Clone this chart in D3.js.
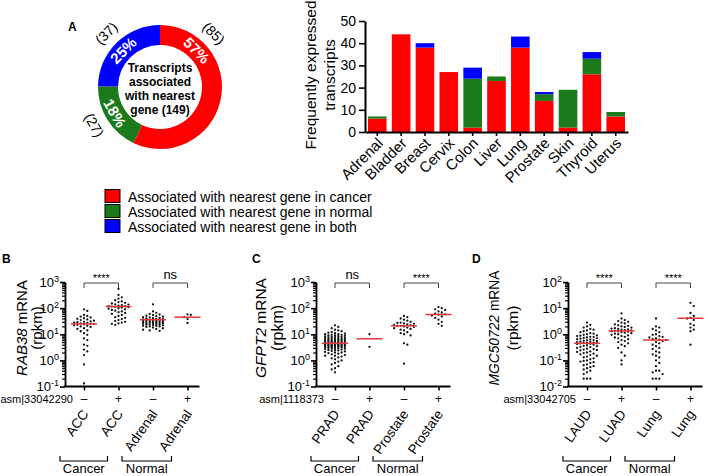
<!DOCTYPE html>
<html>
<head>
<meta charset="utf-8">
<script src="https://cdn.jsdelivr.net/npm/d3@7"></script>
<style>
  body { margin: 0; background: #fff; overflow: hidden; }
  svg { display: block; font-family: "Liberation Sans", Arial, sans-serif; }
</style>
</head>
<body>
<svg id="fig" width="709" height="476"></svg>
<script>
// ---------- panel A, donut ----------
const assocTypes = ["cancer", "normal", "both"];
const assocCounts = [85, 27, 37];
const assocPercent = ["57%", "18%", "25%"];
const donutText = ["Transcripts", "associated", "with nearest", "gene (149)"];

// ---------- panel A, stacked bars ----------
const tissues = ["Adrenal", "Bladder", "Breast", "Cervix", "Colon", "Liver", "Lung", "Prostate", "Skin", "Thyroid", "Uterus"];
const inCancer = [6, 44, 38, 27, 2, 23, 38, 14, 2, 26, 7];
const inNormal = [1, 0, 0, 0, 22, 2, 0, 3, 17, 7, 2];
const inBoth   = [0, 0, 2, 0, 5, 0, 5, 1, 0, 3, 0];
const countTicks = [0, 10, 20, 30, 40, 50];
const legendText = [
  "Associated with nearest gene in cancer",
  "Associated with nearest gene in normal",
  "Associated with nearest gene in both"
];

// ---------- panel B: RAB38 ----------
const accNeg = [90, 78, 55, 50, 47, 44, 41, 39, 37, 35, 33, 31, 30, 29, 28, 27, 26, 25, 25, 24, 23, 22, 21, 20, 19, 17, 16, 14, 13, 11, 9.5, 7, 6, 4, 3.6, 2.6, 2.2, 1.6, 0.7, 0.13];
const accPos = [550, 320, 260, 230, 200, 180, 170, 160, 150, 140, 135, 130, 125, 120, 118, 115, 112, 110, 105, 100, 95, 90, 85, 80, 75, 70, 65, 60, 55, 50, 45, 42, 38, 35, 32, 30, 28, 26, 25, 23];
const adrNeg = [140, 75, 66, 60, 57, 54, 51, 49, 47, 45, 44, 42, 41, 40, 39, 38, 37, 36, 36, 35, 35, 34, 33, 33, 32, 31, 31, 30, 30, 29, 29, 28, 28, 27, 27, 26, 26, 25, 25, 24, 24, 23, 23, 22, 22, 21, 21, 20, 20, 19, 18, 17, 16, 15, 14, 13.5];
const adrPos = [58, 55, 45, 38, 27];
const rabMedians = [25, 115, 36, 45];

// ---------- panel C: GFPT2 ----------
const pradNeg = [22, 19, 17, 15, 14, 13, 12, 11.5, 11, 10.5, 10, 10, 9.5, 9.5, 9, 9, 8.7, 8.5, 8.2, 8, 8, 7.8, 7.6, 7.4, 7.2, 7, 7, 6.8, 6.6, 6.5, 6.4, 6.2, 6, 6, 5.9, 5.8, 5.7, 5.6, 5.5, 5.4, 5.3, 5.2, 5.1, 5, 5, 4.9, 4.8, 4.8, 4.7, 4.6, 4.6, 4.5, 4.5, 4.4, 4.4, 4.3, 4.3, 4.2, 4.2, 4.1, 4.1, 4, 4, 3.9, 3.9, 3.8, 3.8, 3.7, 3.7, 3.6, 3.6, 3.5, 3.5, 3.4, 3.4, 3.3, 3.3, 3.2, 3.2, 3.1, 3, 3, 2.9, 2.8, 2.8, 2.7, 2.6, 2.5, 2.5, 2.4, 2.3, 2.2, 2.1, 2, 2, 1.9, 1.8, 1.7, 1.6, 1.5, 1.5, 1.4, 1.3, 1.2, 1.1, 1, 0.9, 0.8, 0.7, 0.6, 0.5, 0.45, 0.35];
const pradPos = [10, 3.3];
const prosNeg = [50, 45, 40, 36, 33, 30, 28, 27, 26, 25, 24, 23, 22, 21, 21, 20, 19, 18, 17, 16, 15, 14, 12, 11, 10, 9, 4.5, 4, 0.75];
const prosPos = [110, 100, 90, 85, 75, 68, 62, 58, 56, 52, 48, 42, 36, 30, 25, 21];
const gfptMedians = [4.5, 6.7, 21, 57];

// ---------- panel D: MGC50722 ----------
const laudNeg = [2.8, 2.3, 2, 1.8, 1.6, 1.5, 1.4, 1.3, 1.2, 1.1, 1.05, 1, 0.95, 0.9, 0.88, 0.85, 0.8, 0.78, 0.75, 0.72, 0.7, 0.68, 0.65, 0.62, 0.6, 0.58, 0.56, 0.54, 0.52, 0.5, 0.5, 0.48, 0.47, 0.46, 0.45, 0.44, 0.43, 0.42, 0.4, 0.38, 0.36, 0.35, 0.33, 0.32, 0.3, 0.28, 0.27, 0.26, 0.25, 0.24, 0.22, 0.21, 0.2, 0.19, 0.18, 0.17, 0.16, 0.15, 0.14, 0.13, 0.12, 0.11, 0.1, 0.095, 0.09, 0.085, 0.08, 0.07, 0.065, 0.06, 0.055, 0.05, 0.045, 0.04, 0.035, 0.03, 0.02, 0.02, 0.02];
const luadPos = [6.3, 4, 3.5, 3.2, 3, 2.8, 2.6, 2.4, 2.2, 2.1, 2, 1.9, 1.8, 1.7, 1.65, 1.6, 1.55, 1.5, 1.45, 1.4, 1.35, 1.3, 1.3, 1.25, 1.2, 1.15, 1.1, 1.05, 1, 0.95, 0.9, 0.85, 0.8, 0.75, 0.7, 0.65, 0.6, 0.55, 0.5, 0.45, 0.4, 0.35, 0.3, 0.2, 0.15, 0.1, 0.07];
const lungNeg = [4, 2, 1.8, 1.6, 1.4, 1.2, 1, 0.95, 0.85, 0.8, 0.75, 0.7, 0.65, 0.62, 0.6, 0.55, 0.5, 0.45, 0.4, 0.35, 0.3, 0.27, 0.22, 0.2, 0.17, 0.15, 0.13, 0.1, 0.08, 0.06, 0.04, 0.04, 0.035, 0.03, 0.02, 0.02, 0.02];
const lungPos = [16, 12, 6.5, 5, 4.2, 4, 3.5, 2.5, 2.2, 1.8, 1.5, 1.3, 0.4];
const mgcMedians = [0.45, 1.35, 0.6, 4.1];

const signs = ["\u2013", "+", "\u2013", "+"];
const colors = { cancer: "#ff0000", normal: "#1b7a1b", both: "#0000ff" };

const svg = d3.select("#fig");
svg.append("rect").attr("width", 709).attr("height", 476).attr("fill", "#fff");

// panel letters
[["A", 68, 31], ["B", 2, 263], ["C", 252, 263], ["D", 472, 263]].forEach(([t, x, y]) => {
  svg.append("text").attr("x", x).attr("y", y).attr("font-size", 12).attr("font-weight", "bold").text(t);
});

// ===== donut =====
const donut = svg.append("g").attr("transform", "translate(160,87)");
const pie = d3.pie().sort(null).value(d => d)(assocCounts);
const arc = d3.arc().innerRadius(42).outerRadius(62);
donut.selectAll("path").data(pie).join("path")
  .attr("d", arc)
  .attr("fill", (d, i) => colors[assocTypes[i]]);

const labelAngle = [45, 240, 315];
const polar = (deg, r) => [r * Math.sin(deg * Math.PI / 180), -r * Math.cos(deg * Math.PI / 180)];
const tangent = deg => (deg > 90 && deg < 270) ? deg - 180 : (deg >= 270 ? deg - 360 : deg);

donut.selectAll(".pct").data(assocPercent).join("text")
  .attr("class", "pct")
  .attr("transform", (d, i) => {
    const [px, py] = polar(labelAngle[i], 52);
    return `translate(${px},${py}) rotate(${tangent(labelAngle[i])})`;
  })
  .attr("text-anchor", "middle").attr("dominant-baseline", "central")
  .attr("fill", "#fff").attr("font-weight", "bold").attr("font-size", 15)
  .text(d => d);

donut.selectAll(".cnt").data(assocCounts).join("text")
  .attr("class", "cnt")
  .attr("transform", (d, i) => {
    const [px, py] = polar(labelAngle[i], 76);
    return `translate(${px},${py}) rotate(${tangent(labelAngle[i])})`;
  })
  .attr("text-anchor", "middle").attr("dominant-baseline", "central")
  .attr("font-size", 14)
  .text(d => `(${d})`);

donut.selectAll(".mid").data(donutText).join("text")
  .attr("class", "mid")
  .attr("x", 0).attr("y", (d, i) => -19 + i * 14)
  .attr("text-anchor", "middle").attr("dominant-baseline", "central")
  .attr("font-weight", "bold").attr("font-size", 12)
  .text(d => d);

// ===== stacked bars =====
const barX = d3.scaleBand().domain(tissues).range([365, 628]).paddingInner(0.22).paddingOuter(0.125);
const barY = d3.scaleLinear().domain([0, 50]).range([132, 21]);
const rows = tissues.map((t, i) => ({ tissue: t, cancer: inCancer[i], normal: inNormal[i], both: inBoth[i] }));
const stacked = d3.stack().keys(assocTypes)(rows);

svg.append("g").selectAll("g").data(stacked).join("g")
  .attr("fill", d => colors[d.key])
  .selectAll("rect").data(d => d).join("rect")
  .attr("x", d => barX(d.data.tissue))
  .attr("width", barX.bandwidth())
  .attr("y", d => barY(d[1]))
  .attr("height", d => barY(d[0]) - barY(d[1]));

svg.append("g").attr("transform", "translate(365,0)")
  .call(d3.axisLeft(barY).tickValues(countTicks).tickSize(6).tickSizeOuter(0))
  .call(g => g.select(".domain").attr("stroke-width", 2))
  .call(g => g.selectAll(".tick line").attr("stroke-width", 1.6))
  .call(g => g.selectAll("text").attr("font-size", 14).attr("fill", "#000").attr("font-family", null));

svg.append("g").attr("transform", "translate(0,132)")
  .call(d3.axisBottom(barX).tickSize(4).tickSizeOuter(0))
  .call(g => g.select(".domain").attr("stroke-width", 2))
  .call(g => g.selectAll(".tick line").attr("stroke-width", 1.6))
  .call(g => g.selectAll("text")
    .attr("font-size", 15).attr("fill", "#000").attr("font-family", null)
    .attr("text-anchor", "end")
    .attr("x", -4).attr("y", 8).attr("dy", "0.35em")
    .attr("transform", "rotate(-45)"));

svg.append("text")
  .attr("transform", "translate(310,75) rotate(-90)")
  .attr("text-anchor", "middle").attr("dominant-baseline", "central")
  .attr("font-size", 15.5).text("Frequently expressed");
svg.append("text")
  .attr("transform", "translate(329,75) rotate(-90)")
  .attr("text-anchor", "middle").attr("dominant-baseline", "central")
  .attr("font-size", 15.5).text("transcripts");

// legend
const legend = svg.append("g").attr("transform", "translate(105,189.5)");
legend.selectAll("rect").data(assocTypes).join("rect")
  .attr("x", 0).attr("y", (d, i) => i * 15)
  .attr("width", 15).attr("height", 13)
  .attr("fill", d => colors[d]).attr("stroke", "#000").attr("stroke-width", 1);
legend.selectAll("text").data(legendText).join("text")
  .attr("x", 23).attr("y", (d, i) => i * 15 + 7)
  .attr("dominant-baseline", "central")
  .attr("font-size", 14).text(d => d);

// ===== scatter panels =====
// greedy beeswarm: try the centre first, then step outwards; overlap allowed past maxW
function swarm(values, y, cx, maxW) {
  const d = 3.3;
  const pts = values.map(v => ({ v, y: y(v) })).sort((a, b) => a.y - b.y);
  const placed = [];
  const cands = [0];
  for (let k = 1; k * d <= maxW; k++) { cands.push(k * d, -k * d); }
  pts.forEach(p => {
    let best = 0, bestDist = -1;
    for (const o of cands) {
      let minD = Infinity;
      for (const q of placed) {
        const dd = Math.hypot(q.dx - o, q.y - p.y);
        if (dd < minD) minD = dd;
      }
      if (minD >= d) { best = o; break; }
      if (minD > bestDist) { bestDist = minD; best = o; }
    }
    p.dx = best;
    placed.push(p);
  });
  return pts.map(p => ({ x: cx + p.dx, y: p.y }));
}

function scatterPanel(cfg) {
  const top = 282, bottom = 386.5;
  const cat0 = cfg.axisX + 19;
  const y = d3.scaleLog().domain(cfg.domain).range([bottom, top]);
  const x = d3.scalePoint().domain([0, 1, 2, 3]).range([cat0, cat0 + 3 * 34.5]);
  const g = svg.append("g");
  const lo = Math.round(Math.log10(cfg.domain[0])), hi = Math.round(Math.log10(cfg.domain[1]));
  const decades = d3.range(lo, hi + 1).map(e => Math.pow(10, e));
  const minors = [];
  decades.slice(0, -1).forEach(dv => { for (let k = 2; k <= 9; k++) minors.push(dv * k); });

  // minor ticks
  g.append("g").attr("transform", `translate(${cfg.axisX},0)`)
    .call(d3.axisLeft(y).tickValues(minors).tickSize(3).tickSizeOuter(0).tickFormat(""))
    .call(a => a.select(".domain").remove())
    .call(a => a.selectAll(".tick line").attr("stroke-width", 1.2));
  // major ticks with superscript labels
  g.append("g").attr("transform", `translate(${cfg.axisX},0)`)
    .call(d3.axisLeft(y).tickValues(decades).tickSize(5).tickSizeOuter(0))
    .call(a => a.select(".domain").attr("stroke-width", 1.8))
    .call(a => a.selectAll(".tick line").attr("stroke-width", 1.6))
    .call(a => a.selectAll(".tick text").each(function (dv) {
      const t = d3.select(this).text(null).attr("font-size", 13).attr("fill", "#000")
        .attr("font-family", null).attr("x", -6).attr("dy", "0.32em");
      t.append("tspan").text("10");
      t.append("tspan").attr("dy", "-0.55em").attr("font-size", 9).text(Math.round(Math.log10(dv)));
    }));

  // x axis
  g.append("line")
    .attr("x1", cfg.axisX - 0.9).attr("x2", x(3) + 12)
    .attr("y1", bottom).attr("y2", bottom)
    .attr("stroke", "#000").attr("stroke-width", 1.8);
  g.append("g").attr("transform", `translate(0,${bottom})`)
    .call(d3.axisBottom(x).tickSize(4).tickFormat(""))
    .call(a => a.select(".domain").remove())
    .call(a => a.selectAll(".tick line").attr("stroke-width", 1.6));

  // dots
  cfg.groups.forEach((vals, i) => {
    g.append("g").selectAll("circle")
      .data(swarm(vals, y, x(i), 13)).join("circle")
      .attr("cx", d => d.x).attr("cy", d => d.y).attr("r", 1.15).attr("fill", "#111");
  });
  // medians
  g.selectAll(".med").data(cfg.medians).join("line")
    .attr("class", "med")
    .attr("x1", (d, i) => x(i) - 13).attr("x2", (d, i) => x(i) + 13)
    .attr("y1", d => y(d)).attr("y2", d => y(d))
    .attr("stroke", "#e8363a").attr("stroke-width", 1.5);

  // significance brackets
  cfg.sig.forEach((s, k) => {
    const x1 = x(2 * k), x2 = x(2 * k + 1);
    g.append("path").attr("d", `M${x1},288V283H${x2}V288`)
      .attr("fill", "none").attr("stroke", "#444").attr("stroke-width", 1);
    g.append("text").attr("x", (x1 + x2) / 2).attr("y", s === "ns" ? 279 : 282)
      .attr("text-anchor", "middle").attr("font-size", s === "ns" ? 13 : 11).text(s);
  });

  // y label
  const yl1 = g.append("text")
    .attr("transform", `translate(${cfg.axisX + cfg.labelDx[0]},328) rotate(-90)`)
    .attr("text-anchor", "middle").attr("dominant-baseline", "central")
    .attr("font-size", cfg.labelSize[0]);
  yl1.append("tspan").attr("font-style", "italic").text(cfg.gene);
  yl1.append("tspan").text(" mRNA");
  g.append("text")
    .attr("transform", `translate(${cfg.axisX + cfg.labelDx[1]},328) rotate(-90)`)
    .attr("text-anchor", "middle").attr("dominant-baseline", "central")
    .attr("font-size", cfg.labelSize[1]).text("(rpkm)");

  // asm row
  g.append("text").attr("x", cat0 - 11).attr("y", 403)
    .attr("text-anchor", "end").attr("font-size", 11).text(cfg.asm);
  g.selectAll(".sign").data(signs).join("text")
    .attr("class", "sign")
    .attr("x", (d, i) => x(i)).attr("y", 403)
    .attr("text-anchor", "middle").attr("font-size", 12).text(d => d);

  // category labels
  g.selectAll(".cat").data(cfg.cats).join("text")
    .attr("class", "cat")
    .attr("transform", (d, i) => `translate(${x(i) + 5},414) rotate(-55)`)
    .attr("text-anchor", "end").attr("font-size", 13.5).text(d => d);

  // cancer / normal brackets
  const spans = [[x(0) - 24, x(1) - 11, "Cancer"], [x(2) - 31, x(3) - 16, "Normal"]];
  spans.forEach(([a, b, t]) => {
    g.append("path").attr("d", `M${a},456V461H${b}V456`)
      .attr("fill", "none").attr("stroke", "#000").attr("stroke-width", 1.2);
    g.append("text").attr("x", (a + b) / 2).attr("y", 473)
      .attr("text-anchor", "middle").attr("font-size", 13).text(t);
  });
}

scatterPanel({
  axisX: 65, domain: [0.1, 1000],
  groups: [accNeg, accPos, adrNeg, adrPos], medians: rabMedians,
  cats: ["ACC", "ACC", "Adrenal", "Adrenal"], asm: "asm|33042290",
  gene: "RAB38", sig: ["****", "ns"], labelDx: [-44, -29], labelSize: [15, 15]
});
scatterPanel({
  axisX: 316, domain: [0.1, 1000],
  groups: [pradNeg, pradPos, prosNeg, prosPos], medians: gfptMedians,
  cats: ["PRAD", "PRAD", "Prostate", "Prostate"], asm: "asm|1118373",
  gene: "GFPT2", sig: ["ns", "****"], labelDx: [-56, -39], labelSize: [15.5, 16]
});
scatterPanel({
  axisX: 568, domain: [0.01, 100],
  groups: [laudNeg, luadPos, lungNeg, lungPos], medians: mgcMedians,
  cats: ["LAUD", "LUAD", "Lung", "Lung"], asm: "asm|33042705",
  gene: "MGC50722", sig: ["****", "****"], labelDx: [-74, -56], labelSize: [13.8, 15.5]
});
</script>
</body>
</html>
